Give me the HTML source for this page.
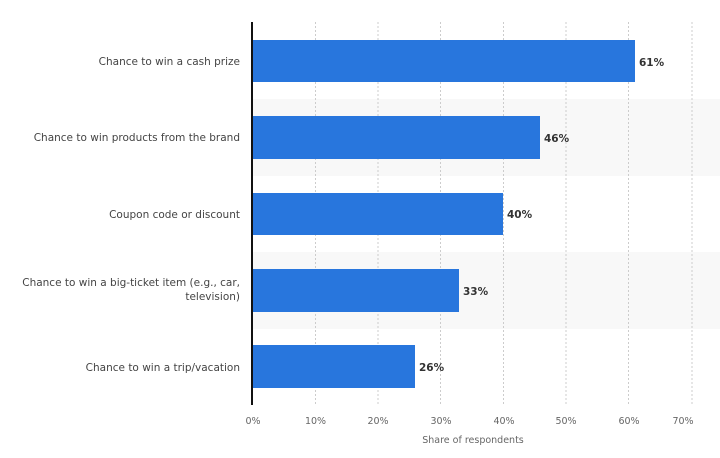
<!DOCTYPE html>
<html><head><meta charset="utf-8"><style>
body{margin:0;background:#fff;width:720px;height:453px;overflow:hidden}
text{font-family:"DejaVu Sans","Liberation Sans",sans-serif}
</style></head><body>
<svg width="720" height="453" xmlns="http://www.w3.org/2000/svg">
<rect x="252" y="99" width="468" height="77" fill="#f8f8f8"/>
<rect x="252" y="252" width="468" height="77" fill="#f8f8f8"/>
<g stroke="#cccccc" stroke-dasharray="2,2" stroke-width="1">
<line x1="315.5" y1="22" x2="315.5" y2="405"/>
<line x1="378" y1="22" x2="378" y2="405"/>
<line x1="440.5" y1="22" x2="440.5" y2="405"/>
<line x1="503.5" y1="22" x2="503.5" y2="405"/>
<line x1="566" y1="22" x2="566" y2="405"/>
<line x1="628.5" y1="22" x2="628.5" y2="405"/>
<line x1="692" y1="22" x2="692" y2="405"/>
</g>
<g fill="#2876dd">
<rect x="252" y="40" width="383" height="42"/>
<rect x="252" y="116" width="288" height="43"/>
<rect x="252" y="193" width="251" height="42"/>
<rect x="252" y="269" width="207" height="43"/>
<rect x="252" y="345" width="163" height="43"/>
</g>
<line x1="252" y1="22" x2="252" y2="405" stroke="#111" stroke-width="2"/>
<g font-size="10.5" font-weight="bold" fill="#333">
<text x="639" y="66">61%</text>
<text x="544" y="142">46%</text>
<text x="507" y="218">40%</text>
<text x="463" y="295">33%</text>
<text x="419" y="371">26%</text>
</g>
<g font-size="10.5" fill="#444" text-anchor="end">
<text x="240" y="65">Chance to win a cash prize</text>
<text x="240" y="141">Chance to win products from the brand</text>
<text x="240" y="218">Coupon code or discount</text>
<text x="240" y="286">Chance to win a big-ticket item (e.g., car,</text>
<text x="240" y="300">television)</text>
<text x="240" y="371">Chance to win a trip/vacation</text>
</g>
<g font-size="9.5" fill="#666" text-anchor="middle">
<text x="253" y="424">0%</text>
<text x="315.5" y="424">10%</text>
<text x="378" y="424">20%</text>
<text x="441" y="424">30%</text>
<text x="504" y="424">40%</text>
<text x="566" y="424">50%</text>
<text x="629" y="424">60%</text>
<text x="683" y="424">70%</text>
</g>
<text x="473" y="443" font-size="9.5" fill="#666" text-anchor="middle">Share of respondents</text>
</svg>
</body></html>
